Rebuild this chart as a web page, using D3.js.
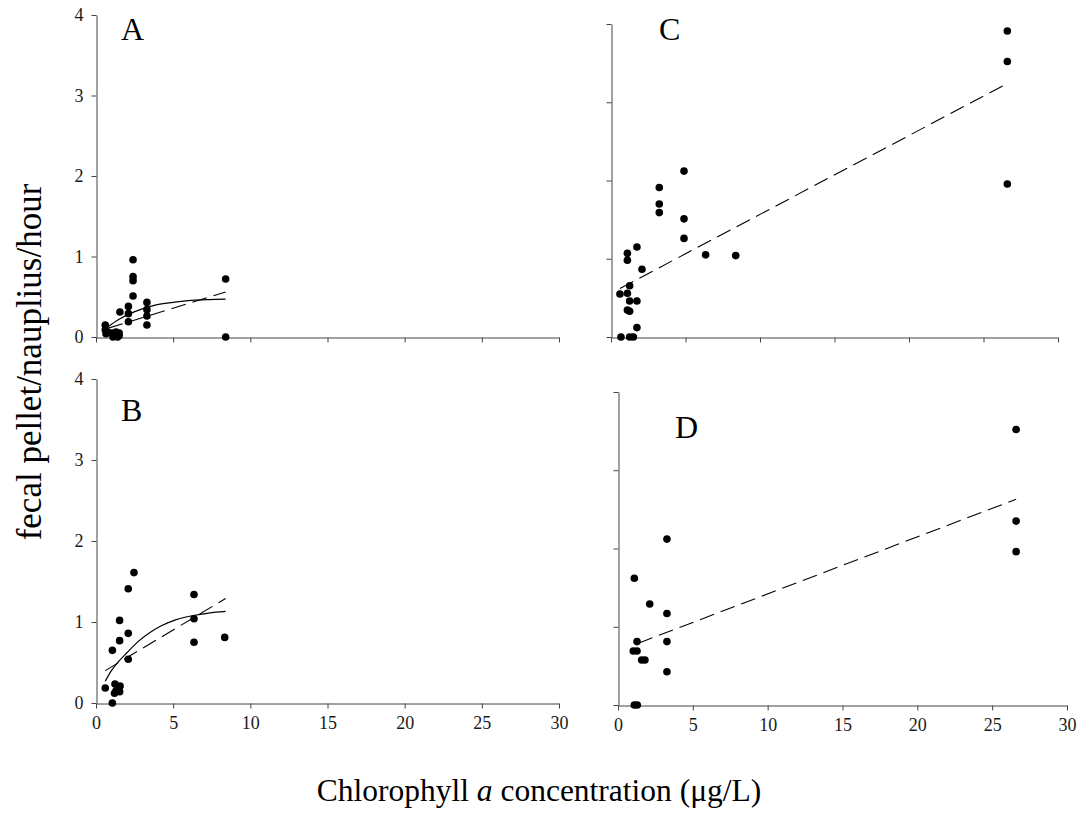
<!DOCTYPE html>
<html>
<head>
<meta charset="utf-8">
<script src="https://cdn.jsdelivr.net/npm/d3@7"></script>
<style>
  body { margin: 0; background: #fff; }
  svg { display: block; }
  text { font-family: "Liberation Serif", "Times New Roman", Times, serif; }
</style>
</head>
<body>
<svg id="chart" width="1080" height="814"></svg>
<script>
// ---------- data ----------
const xTicks = [0, 5, 10, 15, 20, 25, 30];
const yTicks = [0, 1, 2, 3, 4];

// Panel A
const aX = [0.6, 0.6, 0.65, 0.75, 1.0, 1.1, 1.2, 1.3, 1.4, 1.5, 1.5, 1.55, 2.1, 2.1, 2.1, 2.4, 2.4, 2.4, 2.4, 3.3, 3.3, 3.3, 3.3, 8.4, 8.4];
const aY = [0.15, 0.09, 0.04, 0.06, 0.05, 0.0, 0.03, 0.06, 0.0, 0.02, 0.05, 0.31, 0.38, 0.29, 0.19, 0.96, 0.75, 0.70, 0.51, 0.43, 0.34, 0.26, 0.15, 0.72, 0.0];
const aCurveX = [0.8, 1.5, 2.2, 3.0, 3.9, 5.0, 6.2, 7.3, 8.4];
const aCurveY = [0.13, 0.22, 0.29, 0.35, 0.40, 0.43, 0.455, 0.465, 0.47];
const aLineX = [0.8, 8.4];
const aLineY = [0.11, 0.56];

// Panel B
const bX = [0.6, 1.06, 1.06, 1.2, 1.23, 1.3, 1.53, 1.56, 1.53, 1.53, 2.09, 2.09, 2.09, 2.46, 6.35, 6.35, 6.35, 8.34];
const bY = [0.185, 0.0, 0.65, 0.12, 0.235, 0.15, 0.14, 0.21, 0.77, 1.02, 0.54, 0.86, 1.41, 1.61, 1.34, 1.04, 0.75, 0.81];
const bCurveX = [0.6, 1.0, 1.5, 2.0, 2.8, 3.5, 4.2, 5.2, 6.3, 7.3, 8.4];
const bCurveY = [0.27, 0.40, 0.52, 0.62, 0.77, 0.87, 0.95, 1.03, 1.08, 1.11, 1.13];
const bLineX = [0.6, 8.4];
const bLineY = [0.40, 1.29];

// Panel C
const cX = [0.6, 0.67, 1.1, 1.1, 1.1, 1.1, 1.25, 1.25, 1.25, 1.25, 1.5, 1.74, 1.74, 1.74, 2.08, 3.24, 3.24, 3.24, 4.9, 4.9, 4.9, 6.35, 8.37, 26.6, 26.6, 26.6];
const cY = [0.55, 0.0, 1.07, 0.98, 0.56, 0.345, 0.655, 0.46, 0.33, 0.0, 0.0, 1.15, 0.46, 0.12, 0.865, 1.91, 1.70, 1.59, 2.12, 1.51, 1.26, 1.05, 1.04, 3.91, 3.52, 1.955];
const cLineX = [0.6, 26.6];
const cLineY = [0.62, 3.24];

// Panel D
const dX = [1.02, 1.09, 1.09, 1.27, 1.27, 1.29, 1.58, 1.8, 2.12, 3.27, 3.27, 3.27, 3.27, 26.6, 26.6, 26.6];
const dY = [0.69, 1.62, 0.0, 0.81, 0.69, 0.0, 0.575, 0.575, 1.29, 2.12, 1.17, 0.81, 0.425, 3.52, 2.35, 1.96];
const dLineX = [1.36, 26.6];
const dLineY = [0.79, 2.63];

// ---------- layout ----------
const FONT = '"Liberation Serif", "Times New Roman", Times, serif';
const panels = [
  { id: "A", x: aX, y: aY, curveX: aCurveX, curveY: aCurveY, lineX: aLineX, lineY: aLineY,
    xr: [96, 559], yr: [337, 15], xLabels: false, yLabels: true, lab: [121, 40] },
  { id: "B", x: bX, y: bY, curveX: bCurveX, curveY: bCurveY, lineX: bLineX, lineY: bLineY,
    xr: [96, 559], yr: [703, 379], xLabels: true, yLabels: true, lab: [121, 421] },
  { id: "C", x: cX, y: cY, lineX: cLineX, lineY: cLineY,
    xr: [611, 1058], yr: [337, 24], xLabels: false, yLabels: false, lab: [659, 40] },
  { id: "D", x: dX, y: dY, lineX: dLineX, lineY: dLineY,
    xr: [618, 1067], yr: [705, 392], xLabels: true, yLabels: false, lab: [675, 438] }
];

const svg = d3.select("#chart");
const axisColor = "#444";

panels.forEach(p => {
  const x = d3.scaleLinear().domain([0, 30]).range(p.xr);
  const y = d3.scaleLinear().domain([0, 4]).range(p.yr);
  const g = svg.append("g");

  const xa = d3.axisBottom(x).tickValues(xTicks).tickSize(5).tickSizeOuter(0).tickPadding(8)
    .tickFormat(p.xLabels ? d3.format("d") : () => "");
  const ya = d3.axisLeft(y).tickValues(yTicks).tickSize(5).tickSizeOuter(0).tickPadding(8)
    .tickFormat(p.yLabels ? d3.format("d") : () => "");

  const gx = g.append("g").attr("transform", `translate(0,${p.yr[0] + 0.5})`).call(xa);
  const gy = g.append("g").attr("transform", `translate(${p.xr[0] + 0.5},0)`).call(ya);
  [gx, gy].forEach(a => {
    a.attr("font-family", FONT).attr("font-size", 18);
    a.selectAll("path, line").attr("stroke", axisColor);
    a.selectAll("text").attr("fill", "#1a1a1a")
      .attr("font-family", FONT).style("font-family", FONT).style("font-size", "18px");
  });

  // dashed linear fit
  const dashed = d3.line().x(d => x(d[0])).y(d => y(d[1]));
  g.append("path")
    .datum(p.lineX.map((v, i) => [v, p.lineY[i]]))
    .attr("d", dashed)
    .attr("fill", "none").attr("stroke", "#000").attr("stroke-width", 1.1)
    .attr("stroke-dasharray", "15,7");

  // solid saturating curve
  if (p.curveX) {
    const cl = d3.line().x(d => x(d[0])).y(d => y(d[1])).curve(d3.curveMonotoneX);
    g.append("path")
      .datum(p.curveX.map((v, i) => [v, p.curveY[i]]))
      .attr("d", cl)
      .attr("fill", "none").attr("stroke", "#000").attr("stroke-width", 1.2);
  }

  // points
  g.selectAll("circle.pt")
    .data(p.x.map((v, i) => [v, p.y[i]]))
    .join("circle")
    .attr("class", "pt")
    .attr("cx", d => x(d[0]))
    .attr("cy", d => y(d[1]))
    .attr("r", 3.8)
    .attr("fill", "#000");

  // panel letter
  svg.append("text")
    .attr("x", p.lab[0]).attr("y", p.lab[1])
    .style("font-family", FONT)
    .style("font-size", "32px").attr("fill", "#000")
    .text(p.id);
});

// axis titles
svg.append("text")
  .attr("transform", "translate(41,362) rotate(-90)")
  .attr("text-anchor", "middle")
  .style("font-family", FONT)
  .style("font-size", "35px")
  .text("fecal pellet/nauplius/hour");

const xt = svg.append("text")
  .attr("x", 539).attr("y", 801)
  .attr("text-anchor", "middle")
  .style("font-family", FONT)
  .style("font-size", "31.5px");
xt.append("tspan").text("Chlorophyll ");
xt.append("tspan").style("font-style", "italic").text("a");
xt.append("tspan").text(" concentration (μg/L)");
</script>
</body>
</html>
